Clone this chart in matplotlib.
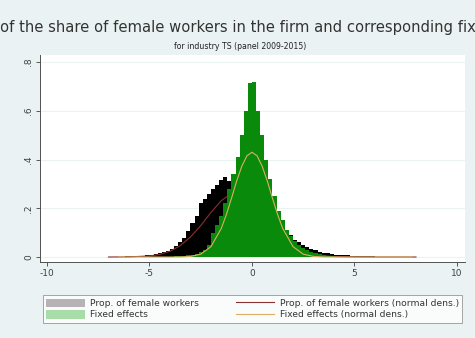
import numpy as np
import matplotlib
matplotlib.use('Agg')
import matplotlib.pyplot as plt
from matplotlib.patches import Patch
from matplotlib.lines import Line2D

# 히스토그램 구간 (폭 0.2)
edges_fem = np.round(np.arange(-7.0, 8.0001, 0.2), 2)
dens_fem = [0.001, 0.001, 0.002, 0.002, 0.003, 0.003, 0.004, 0.005, 0.006, 0.008,
            0.010, 0.013, 0.016, 0.020, 0.025,
            0.032, 0.045, 0.060, 0.080, 0.105,
            0.140, 0.170, 0.220, 0.240, 0.260,
            0.280, 0.295, 0.315, 0.330, 0.310,
            0.300, 0.280, 0.260, 0.240, 0.220,
            0.200, 0.180, 0.170, 0.160, 0.150,
            0.150, 0.140, 0.120, 0.105, 0.090,
            0.070, 0.060, 0.048, 0.040, 0.033,
            0.027, 0.022, 0.018, 0.015, 0.012,
            0.010, 0.009, 0.008, 0.007, 0.006,
            0.005, 0.004, 0.004, 0.003, 0.003,
            0.002, 0.002, 0.002, 0.002, 0.001, 0.001, 0.001, 0.001, 0.001, 0.001]

edges_fe = np.round(np.arange(-4.0, 4.0001, 0.2), 2)
dens_fe = [0.002, 0.003, 0.004, 0.005, 0.007,
           0.010, 0.014, 0.020, 0.030, 0.050,
           0.100, 0.130, 0.170, 0.220, 0.280,
           0.340, 0.410, 0.500, 0.600, 0.715,
           0.720, 0.600, 0.500, 0.400, 0.320,
           0.250, 0.190, 0.150, 0.110, 0.085,
           0.065, 0.050, 0.038, 0.028, 0.020,
           0.015, 0.011, 0.008, 0.005, 0.003]

# 정규분포 곡선
x_nfem = [-7, -6, -5, -4.5, -4, -3.5, -3, -2.5, -2, -1.5, -1, -0.5, 0, 0.5, 1, 1.5, 2, 2.5, 3, 3.5, 4, 5, 6, 7, 8]
y_nfem = [0.0, 0.0005, 0.0044, 0.0107, 0.0237, 0.0466, 0.082, 0.129, 0.183, 0.231, 0.261, 0.264, 0.239,
          0.193, 0.140, 0.091, 0.053, 0.0273, 0.0127, 0.0053, 0.002, 0.0002, 0.0, 0.0, 0.0]

x_nfe = [-6.5, -4, -3.5, -3, -2.5, -2, -1.5, -1.25, -1, -0.75, -0.5, -0.25, 0,
         0.25, 0.5, 0.75, 1, 1.25, 1.5, 2, 2.5, 3, 3.5, 4, 7.8]
y_nfe = [0.0, 0.0, 0.0003, 0.0024, 0.0116, 0.0426, 0.117, 0.174, 0.241, 0.311, 0.372, 0.415, 0.43,
         0.415, 0.372, 0.311, 0.241, 0.174, 0.117, 0.0426, 0.0116, 0.0024, 0.0003, 0.0, 0.0]

xticks = [-10, -5, 0, 5, 10]
yticks = [0, 0.2, 0.4, 0.6, 0.8]
ytick_labels = ['0', '.2', '.4', '.6', '.8']

bg = '#eaf2f3'
fig = plt.figure(figsize=(4.75, 3.38), dpi=100, facecolor=bg)
ax = fig.add_axes([40/475, 1-262/338, 425/475, 207/338])
ax.set_facecolor('white')

for y in yticks:
    ax.axhline(y, color='#eaf2f3', lw=0.8, zorder=0)

# 순서: 검정 히스토그램 -> 빨간 선 -> 초록 히스토그램 -> 주황 선
ax.stairs(dens_fem, edges_fem, fill=True, color='black', zorder=2)
ax.plot(x_nfem, y_nfem, color='#8b3030', lw=0.8, zorder=3)
ax.stairs(dens_fe, edges_fe, fill=True, color='#0a8a0a', zorder=4)
ax.plot(x_nfe, y_nfe, color='#d8b060', lw=0.8, zorder=5)

ax.set_xlim(-10.34, 10.39)
ax.set_ylim(-0.0205, 0.829)
ax.set_xticks(xticks)
ax.set_xticklabels([str(t) for t in xticks])
ax.set_yticks(yticks)
ax.set_yticklabels(ytick_labels, rotation=90, va='center')
ax.tick_params(labelsize=6.5, length=3, width=0.6, colors='#404040', pad=2)

for s in ['top', 'right']:
    ax.spines[s].set_visible(False)
for s in ['left', 'bottom']:
    ax.spines[s].set_color('#505050')
    ax.spines[s].set_linewidth(0.7)

# 제목: 원본에서 보이는 부분만, 폭에 맞춰 크기 조정
title_txt = 'of the share of female workers in the firm and corresponding fix'
fig.canvas.draw()
r = fig.canvas.get_renderer()
tmp = fig.text(0, 0, title_txt, fontsize=10)
w_t = tmp.get_window_extent(r).width
tmp.remove()
fs_title = 10 * 471 / w_t
fig.text(0.5, 0.92, title_txt, fontsize=fs_title, color='#333333', ha='center', va='center')
fig.text(0.505, 0.861, 'for industry TS (panel 2009-2015)', fontsize=5.6,
         color='#222222', ha='center', va='center')

handles = [Patch(facecolor='#b6b2b6', edgecolor='none'),
           Patch(facecolor='#a8dca8', edgecolor='none'),
           Line2D([], [], color='#8b3030', lw=0.8),
           Line2D([], [], color='#d8b060', lw=0.8)]
labels = ['Prop. of female workers', 'Fixed effects',
          'Prop. of female workers (normal dens.)', 'Fixed effects (normal dens.)']
leg = fig.legend(handles, labels, ncol=2, loc='center',
                 bbox_to_anchor=(43/475, 1-328/338, 419/475, 38/338),
                 mode='expand', fontsize=6.6, frameon=True, fancybox=False,
                 handlelength=4.2, handleheight=1.1, labelspacing=0.2,
                 columnspacing=0.4, borderaxespad=0, borderpad=0.35, handletextpad=0.6)
leg.get_frame().set_edgecolor('#808080')
leg.get_frame().set_linewidth(0.6)
for t in leg.get_texts():
    t.set_color('#333333')

fig.savefig('out.png', dpi=100, facecolor=bg)
